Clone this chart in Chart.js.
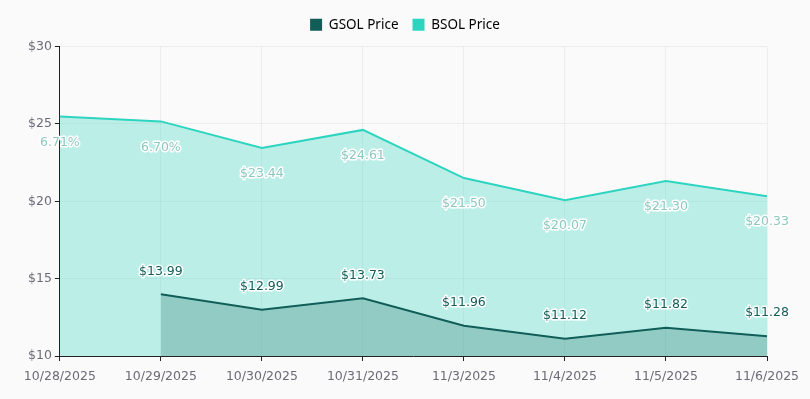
<!DOCTYPE html>
<html>
<head>
<meta charset="utf-8">
<script src="https://cdn.jsdelivr.net/npm/chart.js@4"></script>
<style>
  html, body { margin: 0; padding: 0; background: #fafafa; }
  #wrap { width: 810px; height: 399px; position: relative; }
</style>
</head>
<body>
<div id="wrap"><canvas id="chart-price"></canvas></div>
<script>
// ── Data ──
const dates = ["10/28/2025", "10/29/2025", "10/30/2025", "10/31/2025", "11/3/2025", "11/4/2025", "11/5/2025", "11/6/2025"];
const gsolPrice = [null, 13.99, 12.99, 13.73, 11.96, 11.12, 11.82, 11.28];
const bsolPrice = [25.48, 25.16, 23.44, 24.61, 21.50, 20.07, 21.30, 20.33];
const gsolLabels = ["", "$13.99", "$12.99", "$13.73", "$11.96", "$11.12", "$11.82", "$11.28"];
const bsolLabels = ["6.71%", "6.70%", "$23.44", "$24.61", "$21.50", "$20.07", "$21.30", "$20.33"];
const yTicks = [10, 15, 20, 25, 30];

Chart.defaults.font.family = "'DejaVu Sans', sans-serif";
Chart.defaults.font.size = 12.5;
Chart.defaults.color = "#6b6b78";

// draws value labels next to every point
const pointLabels = {
  id: "pointLabels",
  afterDatasetsDraw(chart) {
    const ctx = chart.ctx;
    ctx.save();
    ctx.font = "12.5px 'DejaVu Sans', sans-serif";
    ctx.textAlign = "center";
    ctx.textBaseline = "middle";
    ctx.lineJoin = "round";
    chart.data.datasets.forEach((ds, i) => {
      const meta = chart.getDatasetMeta(i);
      meta.data.forEach((pt, j) => {
        const txt = ds.pointText[j];
        if (!txt || ds.data[j] == null) return;
        const y = pt.y + ds.textOffset;
        ctx.lineWidth = 3;
        ctx.strokeStyle = "#ffffff";
        ctx.strokeText(txt, pt.x, y);
        ctx.fillStyle = ds.textColor;
        ctx.fillText(txt, pt.x, y);
      });
    });
    ctx.restore();
  }
};

// a bit more room under the legend, and centre it on the page
const legendGap = {
  id: "legendGap",
  beforeInit(chart) {
    const fit = chart.legend.fit;
    chart.legend.fit = function () {
      fit.bind(chart.legend)();
      this.height += 5;
    };
  },
  afterLayout(chart) {
    chart.legend.left += 9;
    chart.legend.right += 9;
  }
};

const ctx = document.getElementById("chart-price").getContext("2d");
new Chart(ctx, {
  type: "line",
  data: {
    labels: dates,
    datasets: [
      {
        label: "GSOL Price",
        data: gsolPrice,
        pointText: gsolLabels,
        textOffset: -23,
        textColor: "#115e59",
        borderColor: "#115e59",
        backgroundColor: "rgba(17,94,89,0.25)",
        fill: "start",
        borderWidth: 2,
        pointRadius: 0,
        tension: 0
      },
      {
        label: "BSOL Price",
        data: bsolPrice,
        pointText: bsolLabels,
        textOffset: 26,
        textColor: "#8cc8bc",
        borderColor: "#2dd4bf",
        backgroundColor: "rgba(45,212,191,0.3)",
        fill: "start",
        borderWidth: 2,
        pointRadius: 0,
        tension: 0
      }
    ]
  },
  options: {
    responsive: true,
    maintainAspectRatio: false,
    animation: false,
    layout: { padding: { left: 25, right: 43, top: 4, bottom: 7 } },
    plugins: {
      legend: {
        position: "top",
        labels: {
          boxWidth: 12,
          boxHeight: 12,
          padding: 14,
          color: "#555560",
          font: { family: "'Noto Sans', sans-serif", size: 13.5 },
          generateLabels(chart) {
            return chart.data.datasets.map((ds, i) => ({
              text: ds.label,
              fillStyle: ds.borderColor,
              strokeStyle: ds.borderColor,
              lineWidth: 0,
              datasetIndex: i
            }));
          }
        }
      },
      tooltip: { enabled: false }
    },
    scales: {
      x: {
        grid: { color: "rgba(0,0,0,0.05)", tickColor: "#222", tickLength: 5 },
        border: { color: "#222", width: 1 },
        ticks: { color: "#6b6b78", maxRotation: 0, autoSkip: false, padding: 8 }
      },
      y: {
        min: 10,
        max: 30,
        afterBuildTicks(axis) { axis.ticks = yTicks.map(v => ({ value: v })); },
        grid: { color: "rgba(0,0,0,0.05)", tickColor: "#222", tickLength: 5 },
        border: { color: "#222", width: 1 },
        ticks: { color: "#6b6b78", callback: v => "$" + v }
      }
    }
  },
  plugins: [pointLabels, legendGap]
});
</script>
</body>
</html>
